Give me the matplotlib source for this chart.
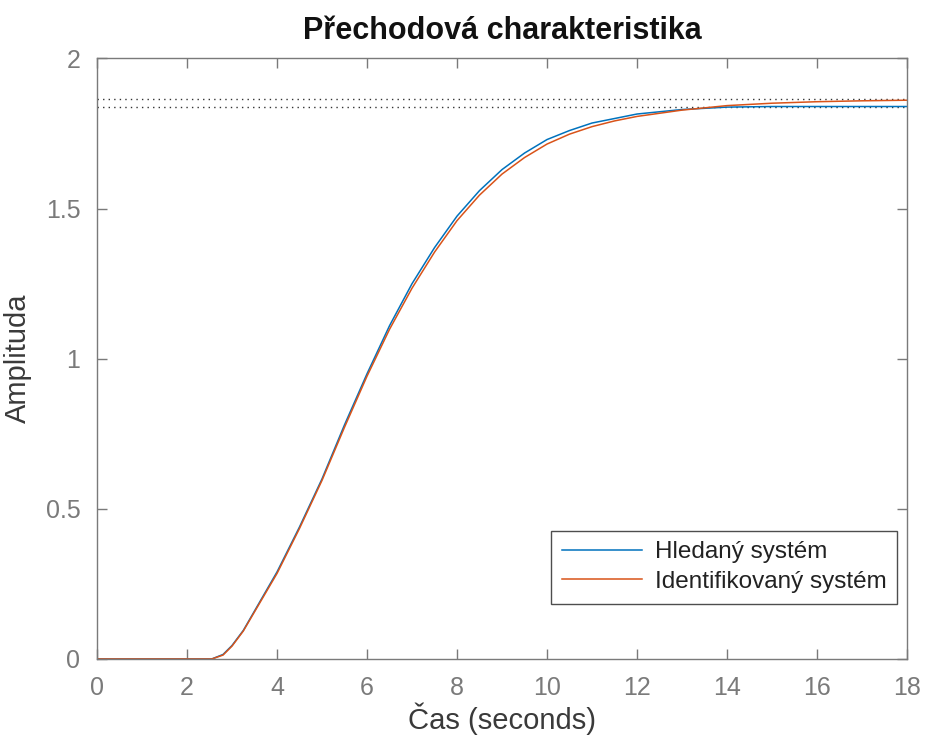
import matplotlib
matplotlib.use("Agg")
import matplotlib.pyplot as plt

plt.rcParams['font.family'] = ['Liberation Sans', 'DejaVu Sans']

# Step responses (time in seconds, amplitude)
t_hledany = [0, 2.55, 2.8, 3.0, 3.25, 3.5, 4.0, 4.5, 5.0, 5.5, 6.0, 6.5, 7.0, 7.5,
             8.0, 8.5, 9.0, 9.5, 10.0, 10.5, 11.0, 11.5, 12.0, 13.0, 14.0, 15.0,
             16.0, 17.0, 18.0]
y_hledany = [0, 0, 0.015, 0.045, 0.095, 0.16, 0.29, 0.44, 0.60, 0.78, 0.95, 1.11,
             1.25, 1.37, 1.475, 1.56, 1.63, 1.685, 1.73, 1.76, 1.785, 1.80, 1.815,
             1.83, 1.838, 1.84, 1.84, 1.84, 1.84]

t_ident = [0, 2.55, 2.8, 3.0, 3.25, 3.5, 4.0, 4.5, 5.0, 5.5, 6.0, 6.5, 7.0, 7.5,
           8.0, 8.5, 9.0, 9.5, 10.0, 10.5, 11.0, 11.5, 12.0, 13.0, 14.0, 15.0,
           16.0, 17.0, 18.0]
y_ident = [0, 0, 0.013, 0.043, 0.093, 0.157, 0.285, 0.435, 0.595, 0.772, 0.942,
           1.098, 1.235, 1.355, 1.46, 1.545, 1.615, 1.67, 1.715, 1.748, 1.773,
           1.792, 1.807, 1.828, 1.843, 1.851, 1.856, 1.859, 1.861]

# Steady-state values
final_hledany = 1.84
final_ident = 1.865

labels = ['Hledaný systém', 'Identifikovaný systém']
colors = ['#0072BD', '#D95319']

fig = plt.figure(figsize=(9.26, 7.43), dpi=100)
ax = fig.add_axes([0.1048, 0.1131, 0.8747, 0.8082])

ax.plot(t_hledany, y_hledany, color=colors[0], lw=1.1, label=labels[0])
ax.plot(t_ident, y_ident, color=colors[1], lw=1.1, label=labels[1])
for v in (final_ident, final_hledany):
    ax.axhline(v, color='#333333', lw=1.0, ls=(0, (1, 3)), zorder=1)

ax.set_xlim(0, 18)
ax.set_ylim(0, 2)
ax.set_xticks(range(0, 19, 2))
ax.set_yticks([0, 0.5, 1, 1.5, 2])
ax.set_yticklabels(['0', '0.5', '1', '1.5', '2'])

grey = '#7a7a7a'
for sp in ax.spines.values():
    sp.set_color(grey)
    sp.set_linewidth(1.0)
ax.tick_params(direction='in', length=7, width=1, colors=grey,
               labelcolor=grey, labelsize=18, top=True, right=True, pad=12)

ax.set_xlabel('Čas (seconds)', fontsize=21, color='#3a3a3a', labelpad=2)
ax.set_ylabel('Amplituda', fontsize=21, color='#3a3a3a', labelpad=10)
ax.set_title('Přechodová charakteristika', fontsize=22, fontweight='bold',
             color='#111111', pad=14)

leg = ax.legend(loc='lower right', bbox_to_anchor=(0.988, 0.092), fontsize=17.5,
                frameon=True, fancybox=False, handlelength=3.3,
                borderpad=0.45, labelspacing=0.3, handletextpad=0.5,
                borderaxespad=0.0)
leg.get_frame().set_edgecolor('#222222')
leg.get_frame().set_linewidth(1.0)
for txt in leg.get_texts():
    txt.set_color('#222222')

fig.savefig('out.png', dpi=100)
